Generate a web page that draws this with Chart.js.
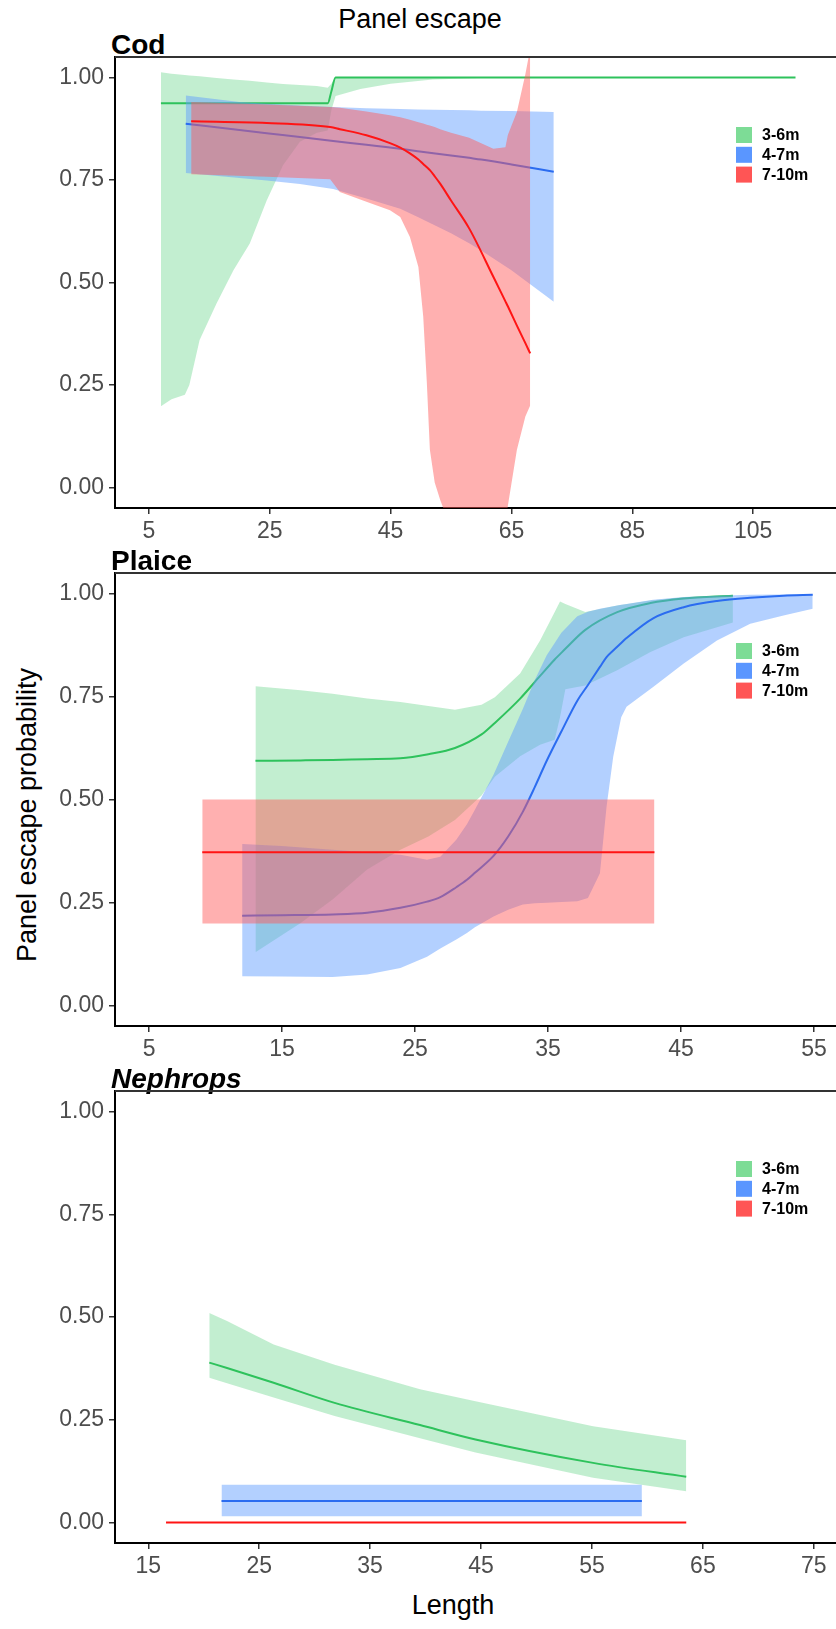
<!DOCTYPE html>
<html lang="en">
<head>
<meta charset="UTF-8">
<title>Panel escape</title>
<style>
  body { margin: 0; background: #fff; font-family: "Liberation Sans", Arial, sans-serif; }
  #page { position: relative; width: 836px; height: 1629px; overflow: hidden; }
  .panel { position: absolute; left: 0; width: 836px; }
  .txt { position: absolute; white-space: nowrap; color: #000; line-height: 1; }
  .center { transform: translate(-50%, -50%); }
  .ptitle { font-weight: bold; font-size: 28px; line-height: 28px; }
</style>
<script src="https://cdn.jsdelivr.net/npm/chart.js"></script>
</head>
<body>
<div id="page">
  <div class="txt center" style="left:420px; top:19px; font-size:27px;">Panel escape</div>
  <div class="txt center" style="left:27px; top:815px; font-size:27px; transform:translate(-50%,-50%) rotate(-90deg);">Panel escape probability</div>
  <div class="txt center" style="left:453px; top:1605px; font-size:27px;">Length</div>

  <div class="txt ptitle" style="left:111px; top:31px;">Cod</div>
  <div class="panel" style="top:55px; height:503px;"><canvas id="codChart"></canvas></div>

  <div class="txt ptitle" style="left:111px; top:547px;">Plaice</div>
  <div class="panel" style="top:571px; height:505px;"><canvas id="plaiceChart"></canvas></div>

  <div class="txt ptitle" style="left:111px; top:1065px; font-style:italic;">Nephrops</div>
  <div class="panel" style="top:1089px; height:504px;"><canvas id="nephChart"></canvas></div>
</div>

<script>
// groups (legend order) and colours
const groups = ['3-6m', '4-7m', '7-10m'];
const lineColors = ['#2EC25C', '#2B6CF0', '#FF1414'];
const bandColors = ['rgba(120,218,150,0.45)', 'rgba(97,156,255,0.48)', 'rgba(255,90,90,0.48)'];
const swatchColors = ['#7DDC96', '#5A96FF', '#FF5555'];

const yTicks = [0, 0.25, 0.5, 0.75, 1.0];

// ---- Cod ----
const codTicks = [5, 25, 45, 65, 85, 105];
const codGreenX   = [7, 8.75, 10.96, 11.7, 13.4, 16.2, 19, 21.7, 24.5, 27.2, 30, 32.8, 34.6, 35.2, 35.9, 40, 45, 52, 60, 112];
const codGreenFit = [0.937, 0.937, 0.937, 0.937, 0.937, 0.937, 0.937, 0.937, 0.937, 0.937, 0.937, 0.937, 0.937, 0.966, 1, 1, 1, 1, 1, 1];
const codGreenLo  = [0.198, 0.215, 0.226, 0.25, 0.36, 0.449, 0.53, 0.595, 0.70, 0.786, 0.843, 0.865, 0.871, 0.92, 0.955, 0.972, 0.985, 0.995, 0.999, 1];
const codGreenHi  = [1.013, 1.009, 1.006, 1.005, 1.003, 0.999, 0.995, 0.992, 0.988, 0.984, 0.982, 0.979, 0.975, 0.985, 1, 1, 1, 1, 1, 1];

const codBlueX   = [11.1, 20, 24.5, 30, 35.5, 41, 46.6, 49.5, 55, 58, 60, 65, 72];
const codBlueFit = [0.887, 0.872, 0.864, 0.855, 0.845, 0.836, 0.826, 0.82, 0.81, 0.804, 0.80, 0.788, 0.770];
const codBlueLo  = [0.767, 0.755, 0.749, 0.74, 0.728, 0.705, 0.68, 0.66, 0.62, 0.596, 0.578, 0.53, 0.453];
const codBlueHi  = [0.956, 0.94, 0.936, 0.932, 0.928, 0.925, 0.923, 0.922, 0.921, 0.92, 0.919, 0.918, 0.916];

const codRedX   = [12, 24.5, 35, 36.6, 41, 44.9, 46.6, 48.2, 49.6, 50.4, 51, 51.5, 52.3, 53.2, 55, 58, 62, 64, 64.4, 65.9, 67.3, 68.1];
const codRedFit = [0.893, 0.889, 0.879, 0.874, 0.859, 0.84, 0.829, 0.815, 0.80, 0.789, 0.781, 0.774, 0.759, 0.741, 0.70, 0.632, 0.514, 0.454, 0.442, 0.395, 0.352, 0.327];
const codRedLo  = [0.764, 0.758, 0.752, 0.721, 0.697, 0.676, 0.66, 0.611, 0.538, 0.417, 0.255, 0.092, 0.012, -0.03, -0.1, -0.1, -0.1, -0.1, -0.045, 0.092, 0.173, 0.2];
const codRedHi  = [0.94, 0.934, 0.928, 0.926, 0.917, 0.908, 0.903, 0.897, 0.891, 0.888, 0.885, 0.883, 0.879, 0.874, 0.865, 0.853, 0.826, 0.83, 0.86, 0.916, 1.008, 1.07];

// ---- Plaice ----
const plaiceTicks = [5, 15, 25, 35, 45, 55];
const plaiceGreenX   = [13, 16.4, 18.8, 21.4, 23.9, 26, 28, 30, 31, 32.9, 34.4, 35.5, 35.9, 36.3, 37.8, 40.2, 42.7, 45.2, 48.9];
const plaiceGreenFit = [0.594, 0.595, 0.596, 0.598, 0.60, 0.61, 0.625, 0.658, 0.686, 0.745, 0.80, 0.84, 0.853, 0.866, 0.912, 0.955, 0.977, 0.988, 0.995];
const plaiceGreenLo  = [0.129, 0.2, 0.257, 0.33, 0.378, 0.41, 0.45, 0.51, 0.555, 0.605, 0.633, 0.645, 0.70, 0.768, 0.777, 0.814, 0.858, 0.894, 0.93];
const plaiceGreenHi  = [0.775, 0.765, 0.757, 0.745, 0.737, 0.727, 0.718, 0.73, 0.748, 0.806, 0.886, 0.955, 0.981, 0.975, 0.955, 0.971, 0.983, 0.991, 0.997];

const plaiceBlueX   = [12, 15, 18.8, 21.4, 23.9, 25.9, 26.9, 28.1, 28.9, 29.5, 30.9, 32, 33.1, 34, 34.9, 36, 37.2, 38, 38.9, 39.4, 39.9, 40.5, 40.9, 42.9, 45.2, 47.7, 50.2, 52.7, 54.9];
const plaiceBlueFit = [0.218, 0.219, 0.221, 0.225, 0.237, 0.252, 0.263, 0.287, 0.305, 0.322, 0.363, 0.41, 0.47, 0.53, 0.594, 0.665, 0.74, 0.778, 0.822, 0.846, 0.862, 0.88, 0.892, 0.94, 0.967, 0.982, 0.99, 0.995, 0.997];
const plaiceBlueLo  = [0.071, 0.07, 0.069, 0.075, 0.091, 0.118, 0.138, 0.16, 0.176, 0.19, 0.216, 0.232, 0.245, 0.248, 0.249, 0.251, 0.253, 0.261, 0.321, 0.483, 0.604, 0.70, 0.725, 0.773, 0.83, 0.886, 0.927, 0.947, 0.963];
const plaiceBlueHi  = [0.392, 0.387, 0.378, 0.372, 0.366, 0.354, 0.361, 0.402, 0.44, 0.475, 0.56, 0.64, 0.72, 0.79, 0.85, 0.905, 0.945, 0.956, 0.963, 0.966, 0.969, 0.973, 0.975, 0.985, 0.992, 0.995, 0.997, 0.998, 0.999];

const plaiceRedX   = [9, 43];
const plaiceRedFit = [0.372, 0.372];
const plaiceRedLo  = [0.199, 0.199];
const plaiceRedHi  = [0.50, 0.50];

// ---- Nephrops ----
const nephTicks = [15, 25, 35, 45, 55, 65, 75];
const nephGreenX   = [20.5, 22.1, 26.3, 31.8, 39.5, 44.5, 55.1, 63.5];
const nephGreenFit = [0.389, 0.376, 0.34, 0.291, 0.237, 0.202, 0.145, 0.111];
const nephGreenLo  = [0.352, 0.339, 0.304, 0.259, 0.205, 0.17, 0.109, 0.076];
const nephGreenHi  = [0.51, 0.49, 0.433, 0.384, 0.324, 0.295, 0.234, 0.20];

const nephBlueX   = [21.6, 59.5];
const nephBlueFit = [0.052, 0.052];
const nephBlueLo  = [0.015, 0.015];
const nephBlueHi  = [0.092, 0.092];

const nephRedX   = [16.6, 63.5];
const nephRedFit = [0, 0];
const nephRedLo  = [0, 0];
const nephRedHi  = [0, 0];

const fontFamily = '"Liberation Sans", Arial, sans-serif';

// one group = fitted line + lower bound + upper bound filled down to the lower bound
function bandSets(g, xs, fit, lo, hi) {
    const pts = arr => xs.map((x, i) => ({ x: x, y: arr[i] }));
    return [
        { label: groups[g], data: pts(fit), borderColor: lineColors[g], borderWidth: 2,
          cubicInterpolationMode: 'monotone', fill: false },
        { label: groups[g] + ' lo', data: pts(lo), borderWidth: 0, borderColor: 'transparent', fill: false },
        { label: groups[g] + ' hi', data: pts(hi), borderWidth: 0, borderColor: 'transparent',
          backgroundColor: bandColors[g], fill: '-1' }
    ];
}

// legend inside the panel + grey top frame line
const panelPlugin = {
    id: 'panelExtras',
    afterDraw(chart) {
        const { ctx, chartArea } = chart;
        ctx.save();
        ctx.strokeStyle = '#333';
        ctx.lineWidth = 2;
        ctx.beginPath();
        ctx.moveTo(chartArea.left, chartArea.top);
        ctx.lineTo(chartArea.right, chartArea.top);
        ctx.stroke();
        ctx.font = 'bold 16px ' + fontFamily;
        ctx.textBaseline = 'middle';
        groups.forEach((g, i) => {
            const y = chartArea.top + 70 + i * 19.8;
            ctx.fillStyle = swatchColors[i];
            ctx.fillRect(736, y, 16, 16);
            ctx.fillStyle = '#000';
            ctx.fillText(g, 762, y + 8.5);
        });
        ctx.restore();
    }
};

function makeChart(id, sets, xMin, xMax, xTicks) {
    return new Chart(document.getElementById(id), {
        type: 'line',
        data: { datasets: sets },
        options: {
            responsive: true,
            maintainAspectRatio: false,
            animation: false,
            layout: { padding: { top: 2, left: 0, right: 0, bottom: 0 } },
            elements: { line: { tension: 0 }, point: { radius: 0, hoverRadius: 0 } },
            plugins: { legend: { display: false }, tooltip: { enabled: false } },
            scales: {
                x: {
                    type: 'linear', min: xMin, max: xMax,
                    afterBuildTicks: s => { s.ticks = xTicks.map(v => ({ value: v })); },
                    afterFit: s => { s.height = 50; s.paddingLeft = 0; s.paddingRight = 0; },
                    grid: { drawOnChartArea: false, tickLength: 6, color: '#333', lineWidth: 1.5 },
                    border: { color: '#000', width: 2 },
                    ticks: { color: '#4d4d4d', padding: 4, autoSkip: false, maxRotation: 0,
                             font: { size: 23, family: fontFamily }, callback: v => String(v) }
                },
                y: {
                    type: 'linear', min: -0.05, max: 1.05,
                    afterBuildTicks: s => { s.ticks = yTicks.map(v => ({ value: v })); },
                    afterFit: s => { s.width = 115; s.paddingTop = 0; s.paddingBottom = 0; },
                    grid: { drawOnChartArea: false, tickLength: 6, color: '#333', lineWidth: 1.5 },
                    border: { color: '#000', width: 2 },
                    ticks: { color: '#4d4d4d', padding: 5, autoSkip: false,
                             font: { size: 23, family: fontFamily }, callback: v => v.toFixed(2) }
                }
            }
        },
        plugins: [panelPlugin]
    });
}

// red first so its band is painted last (on top), as in the reference
makeChart('codChart', [
    ...bandSets(2, codRedX, codRedFit, codRedLo, codRedHi),
    ...bandSets(1, codBlueX, codBlueFit, codBlueLo, codBlueHi),
    ...bandSets(0, codGreenX, codGreenFit, codGreenLo, codGreenHi)
], -0.6, 118.7, codTicks);

makeChart('plaiceChart', [
    ...bandSets(2, plaiceRedX, plaiceRedFit, plaiceRedLo, plaiceRedHi),
    ...bandSets(1, plaiceBlueX, plaiceBlueFit, plaiceBlueLo, plaiceBlueHi),
    ...bandSets(0, plaiceGreenX, plaiceGreenFit, plaiceGreenLo, plaiceGreenHi)
], 2.44, 56.65, plaiceTicks);

makeChart('nephChart', [
    ...bandSets(2, nephRedX, nephRedFit, nephRedLo, nephRedHi),
    ...bandSets(1, nephBlueX, nephBlueFit, nephBlueLo, nephBlueHi),
    ...bandSets(0, nephGreenX, nephGreenFit, nephGreenLo, nephGreenHi)
], 12.0, 77.0, nephTicks);
</script>
</body>
</html>
